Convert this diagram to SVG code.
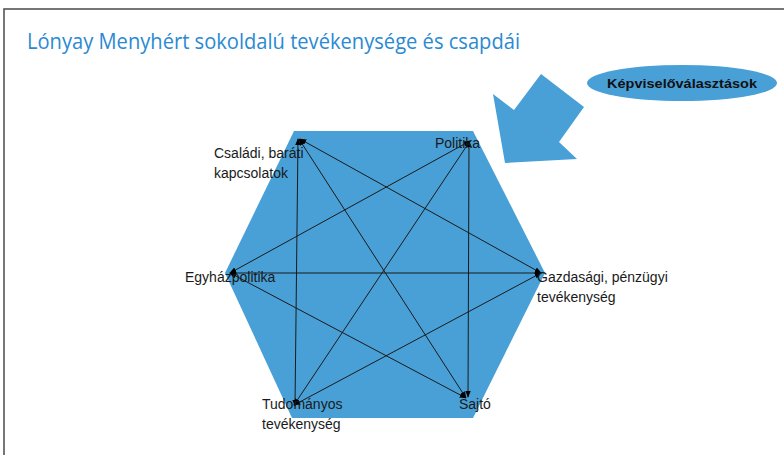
<svg xmlns="http://www.w3.org/2000/svg" width="784" height="455" viewBox="0 0 784 455">
<defs>
<style>
.lbl{font-family:"Liberation Sans","Open Sans",Arial,sans-serif;font-size:14px;fill:#1a1a1a}
.edge{stroke:#1a1a1a;stroke-width:1;fill:none;marker-start:url(#ah);marker-end:url(#ah)}
.blue{fill:#48a0d7}
</style>
<marker id="ah" viewBox="0 0 10 10" refX="9" refY="5" markerWidth="7" markerHeight="7" markerUnits="userSpaceOnUse" orient="auto-start-reverse">
<path d="M0,1 L10,5 L0,9 z" fill="#000"/>
</marker>
</defs>
<rect width="784" height="455" fill="#fff"/>
<rect x="4" y="9" width="800" height="460" fill="none" stroke="#555" stroke-width="1.6"/>
<text x="27" y="49" font-family="'Open Sans','Liberation Sans',sans-serif" font-size="22" fill="#2a8ad2" textLength="493" lengthAdjust="spacingAndGlyphs">Lónyay Menyhért sokoldalú tevékenysége és csapdái</text>
<g id="hexagon"><polygon class="blue" points="294,131 473,131 545,273 473,418 292,418 225,273"/></g>
<g id="arrow"><polygon class="blue" points="541,74 584,107 559,142 577,159 505,163 493,94 514,110"/></g>
<g id="kepviselovalasztasok">
<ellipse class="blue" cx="682" cy="83" rx="95" ry="18"/>
<text x="682" y="88" text-anchor="middle" font-family="'Liberation Sans',Arial,sans-serif" font-size="13.5" font-weight="bold" fill="#111" textLength="150" lengthAdjust="spacingAndGlyphs">Képviselőválasztások</text>
</g>
<g id="connectors">
<line class="edge" x1="298" y1="139" x2="295" y2="406"/>
<line class="edge" x1="299" y1="139" x2="466" y2="398"/>
<line class="edge" x1="300" y1="139" x2="541" y2="273"/>
<line class="edge" x1="469" y1="141" x2="468" y2="397"/>
<line class="edge" x1="470" y1="141" x2="294" y2="405"/>
<line class="edge" x1="470" y1="141" x2="230" y2="273"/>
<line class="edge" x1="230" y1="273" x2="541" y2="273"/>
<line class="edge" x1="230" y1="273" x2="466" y2="398"/>
<line class="edge" x1="541" y1="273" x2="294" y2="405"/>
</g>
<g id="csaladi"><text class="lbl"><tspan x="214" y="158">Családi, baráti</tspan><tspan x="214" y="178">kapcsolatok</tspan></text></g>
<g id="politika"><text class="lbl" x="435" y="148">Politika</text></g>
<g id="egyhazpolitika"><text class="lbl" x="185" y="282">Egyházpolitika</text></g>
<g id="gazdasagi"><text class="lbl"><tspan x="537" y="282">Gazdasági, pénzügyi</tspan><tspan x="537" y="302">tevékenység</tspan></text></g>
<g id="tudomanyos"><text class="lbl"><tspan x="262" y="409">Tudományos</tspan><tspan x="262" y="429">tevékenység</tspan></text></g>
<g id="sajto"><text class="lbl" x="459" y="409">Sajtó</text></g>
</svg>
